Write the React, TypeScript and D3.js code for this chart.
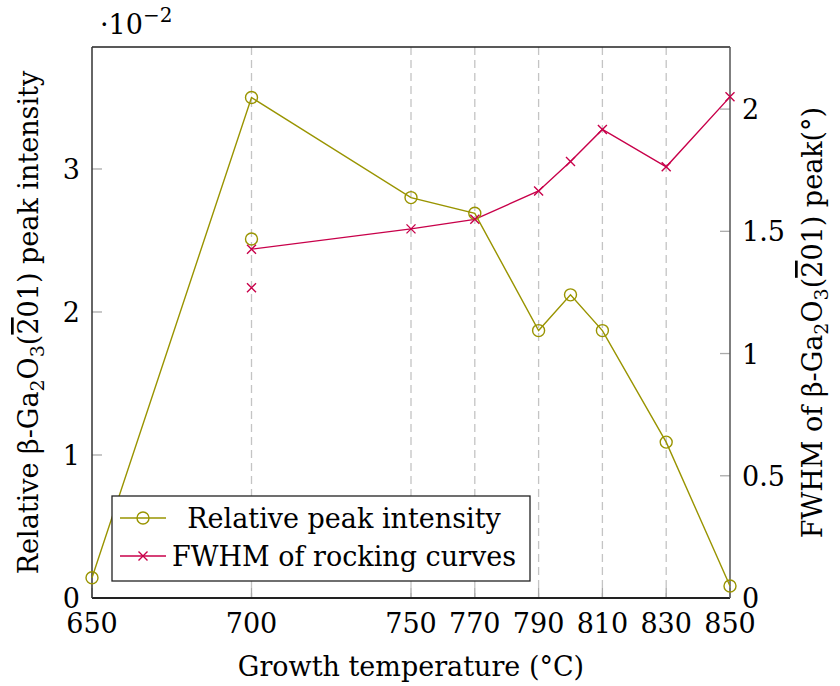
import React, { useEffect, useRef } from "react";
import * as d3 from "d3";

// growth temperatures (°C)
const temps = [650, 700, 750, 770, 790, 800, 810, 830, 850];
const intensity = [0.00142, 0.035, 0.028, 0.0269, 0.0187, 0.0212, 0.0187, 0.0109, 0.00084];
const fwhmTemps = [700, 750, 770, 790, 800, 810, 830, 850];
const fwhm = [1.427, 1.51, 1.549, 1.665, 1.786, 1.917, 1.764, 2.05];
// extra single points at 700 °C
const extraIntensity = [{ t: 700, v: 0.0251 }];
const extraFwhm = [{ t: 700, v: 1.269 }];

const xTicks = [650, 700, 750, 770, 790, 810, 830, 850];
const gridTicks = [700, 750, 770, 790, 810, 830];
const leftTicks = [0, 0.01, 0.02, 0.03];
const rightTicks = [0, 0.5, 1, 1.5, 2];

const OLIVE = "#999400";
const PURPLE = "#c8004a";
const FONT = "DejaVu Serif";
const FS = 27;

const App = () => {
  const svgRef = useRef<SVGSVGElement>(null);

  useEffect(() => {
    const width = 840, height = 686;
    const left = 92, right = 730, top = 47, bottom = 598;

    const svg = d3.select(svgRef.current)
      .attr("width", width)
      .attr("height", height)
      .style("font-family", FONT);
    svg.selectAll("*").remove();

    const x = d3.scaleLinear().domain([650, 850]).range([left, right]);
    const yL = d3.scaleLinear().domain([0, 0.03853]).range([bottom, top]);
    const yR = d3.scaleLinear().domain([0, 2.254]).range([bottom, top]);

    // dashed grid
    svg.selectAll("line.grid")
      .data(gridTicks)
      .enter().append("line")
      .attr("x1", d => x(d)).attr("x2", d => x(d))
      .attr("y1", top).attr("y2", bottom)
      .attr("stroke", "#c4c4c4")
      .attr("stroke-width", 1.3)
      .attr("stroke-dasharray", "8 5");

    // ticks (inward, gray)
    svg.selectAll("line.xt")
      .data(xTicks)
      .enter().append("line")
      .attr("x1", d => x(d)).attr("x2", d => x(d))
      .attr("y1", bottom).attr("y2", bottom - 10)
      .attr("stroke", "#aaa").attr("stroke-width", 1.3);
    svg.selectAll("line.yl")
      .data(leftTicks)
      .enter().append("line")
      .attr("x1", left).attr("x2", left + 10)
      .attr("y1", d => yL(d)).attr("y2", d => yL(d))
      .attr("stroke", "#aaa").attr("stroke-width", 1.3);
    svg.selectAll("line.yr")
      .data(rightTicks)
      .enter().append("line")
      .attr("x1", right - 10).attr("x2", right)
      .attr("y1", d => yR(d)).attr("y2", d => yR(d))
      .attr("stroke", "#aaa").attr("stroke-width", 1.3);

    // axis frame
    svg.append("line").attr("x1", left).attr("x2", right).attr("y1", top).attr("y2", top)
      .attr("stroke", "#222").attr("stroke-width", 1.3);
    svg.append("line").attr("x1", left).attr("x2", right).attr("y1", bottom).attr("y2", bottom)
      .attr("stroke", "#222").attr("stroke-width", 1.8);
    svg.append("line").attr("x1", left).attr("x2", left).attr("y1", top).attr("y2", bottom)
      .attr("stroke", "#333").attr("stroke-width", 1.5);
    svg.append("line").attr("x1", right).attr("x2", right).attr("y1", top).attr("y2", bottom)
      .attr("stroke", "#555").attr("stroke-width", 1.5);

    // tick labels
    svg.selectAll("text.xl")
      .data(xTicks)
      .enter().append("text")
      .attr("x", d => x(d)).attr("y", 633)
      .attr("text-anchor", "middle")
      .attr("font-size", FS)
      .text(d => d);
    svg.selectAll("text.yll")
      .data(leftTicks)
      .enter().append("text")
      .attr("x", 80).attr("y", d => yL(d) + 10)
      .attr("text-anchor", "end")
      .attr("font-size", FS)
      .text(d => d * 100);
    svg.selectAll("text.yrl")
      .data(rightTicks)
      .enter().append("text")
      .attr("x", 742).attr("y", d => yR(d) + 10)
      .attr("text-anchor", "start")
      .attr("font-size", FS)
      .text(d => d);

    // exponent
    const ex = svg.append("text").attr("x", 100).attr("y", 34).attr("font-size", FS);
    ex.append("tspan").text("·10");
    ex.append("tspan").attr("dy", -12).attr("font-size", 20).text("−2");

    // lines
    const lineI = d3.line<number>().x((_, i) => x(temps[i])).y(d => yL(d));
    const lineF = d3.line<number>().x((_, i) => x(fwhmTemps[i])).y(d => yR(d));

    svg.append("path").datum(intensity)
      .attr("d", lineI).attr("fill", "none")
      .attr("stroke", OLIVE).attr("stroke-width", 1.4);
    svg.append("path").datum(fwhm)
      .attr("d", lineF).attr("fill", "none")
      .attr("stroke", PURPLE).attr("stroke-width", 1.4);

    const circles = intensity.map((v, i) => ({ t: temps[i], v })).concat(extraIntensity);
    svg.selectAll("circle.pt")
      .data(circles)
      .enter().append("circle")
      .attr("cx", d => x(d.t)).attr("cy", d => yL(d.v))
      .attr("r", 6)
      .attr("fill", "none").attr("stroke", OLIVE).attr("stroke-width", 1.4);

    const crosses = fwhm.map((v, i) => ({ t: fwhmTemps[i], v })).concat(extraFwhm);
    const cross = (cx: number, cy: number, s: number) =>
      `M${cx - s},${cy - s}L${cx + s},${cy + s}M${cx - s},${cy + s}L${cx + s},${cy - s}`;
    svg.selectAll("path.cross")
      .data(crosses)
      .enter().append("path")
      .attr("d", d => cross(x(d.t), yR(d.v), 4.5))
      .attr("stroke", PURPLE).attr("stroke-width", 1.4).attr("fill", "none");

    // legend
    const lg = svg.append("g");
    lg.append("rect")
      .attr("x", 112).attr("y", 496).attr("width", 418).attr("height", 85)
      .attr("fill", "white").attr("stroke", "#222").attr("stroke-width", 1.3);
    lg.append("line").attr("x1", 120).attr("x2", 166).attr("y1", 518).attr("y2", 518)
      .attr("stroke", OLIVE).attr("stroke-width", 1.4);
    lg.append("circle").attr("cx", 143).attr("cy", 518).attr("r", 6)
      .attr("fill", "none").attr("stroke", OLIVE).attr("stroke-width", 1.4);
    lg.append("line").attr("x1", 120).attr("x2", 166).attr("y1", 556).attr("y2", 556)
      .attr("stroke", PURPLE).attr("stroke-width", 1.4);
    lg.append("path").attr("d", cross(143, 556, 4.5))
      .attr("stroke", PURPLE).attr("stroke-width", 1.4);
    lg.append("text").attr("x", 344).attr("y", 528).attr("text-anchor", "middle")
      .attr("font-size", FS).text("Relative peak intensity");
    lg.append("text").attr("x", 344).attr("y", 566).attr("text-anchor", "middle")
      .attr("font-size", FS).text("FWHM of rocking curves");

    // axis titles
    svg.append("text")
      .attr("x", (left + right) / 2).attr("y", 676)
      .attr("text-anchor", "middle")
      .attr("font-size", FS)
      .text("Growth temperature (°C)");

    const gaLabel = (sel: any, before: string, after: string) => {
      sel.append("tspan").text(before + "β-Ga");
      sel.append("tspan").attr("font-size", 19).attr("dy", 6).text("2");
      sel.append("tspan").attr("dy", -6).text("O");
      sel.append("tspan").attr("font-size", 19).attr("dy", 6).text("3");
      sel.append("tspan").attr("dy", -6).text("(");
      sel.append("tspan").style("text-decoration", "overline").text("2");
      sel.append("tspan").text("01)" + after);
    };

    const yLt = svg.append("text")
      .attr("transform", `translate(38, ${(top + bottom) / 2}) rotate(-90)`)
      .attr("text-anchor", "middle")
      .attr("font-size", FS);
    gaLabel(yLt, "Relative ", " peak intensity");

    const yRt = svg.append("text")
      .attr("transform", `translate(822, ${(top + bottom) / 2}) rotate(-90)`)
      .attr("text-anchor", "middle")
      .attr("font-size", FS);
    gaLabel(yRt, "FWHM of ", " peak(°)");
  }, []);

  return <svg ref={svgRef} style={{ position: "absolute", left: 0, top: 0 }}></svg>;
};

export default App;
